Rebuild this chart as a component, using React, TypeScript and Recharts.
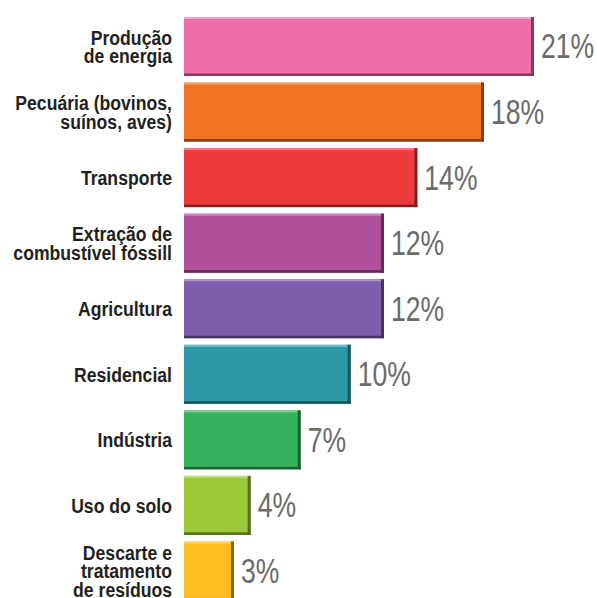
import React from "react";
import { BarChart, Bar, XAxis, YAxis, Cell, LabelList } from "recharts";

const sectors = [
  "Produção\nde energia",
  "Pecuária (bovinos,\nsuínos, aves)",
  "Transporte",
  "Extração de\ncombustível fóssill",
  "Agricultura",
  "Residencial",
  "Indústria",
  "Uso do solo",
  "Descarte e\ntratamento\nde resíduos",
];
const shares = [21, 18, 14, 12, 12, 10, 7, 4, 3];

const palette = [
  "#ef6eaa",
  "#f07223",
  "#ee3c3c",
  "#b0509c",
  "#7e5fad",
  "#2f98a6",
  "#36b25d",
  "#9dc83a",
  "#fdbd20",
];

const data = sectors.map((name, i) => ({ name, share: shares[i] }));

const FONT = "'Liberation Sans', Arial, sans-serif";

function shade(hex: string, amt: number) {
  const n = parseInt(hex.slice(1), 16);
  const mix = (c: number) =>
    Math.round(amt < 0 ? c * (1 + amt) : c + (255 - c) * amt);
  const r = mix((n >> 16) & 255);
  const g = mix((n >> 8) & 255);
  const b = mix(n & 255);
  return `rgb(${r},${g},${b})`;
}

function SectorBar(props: any) {
  const { x, y, width, height, fill } = props;
  if (!width || width <= 0) return null;
  const dark = shade(fill, -0.45);
  return (
    <g>
      <rect x={x} y={y} width={width} height={height} fill={fill} />
      <rect x={x} y={y} width={width} height={2} fill={shade(fill, 0.35)} />
      <rect x={x + width - 3} y={y} width={3} height={height} fill={dark} />
      <rect x={x} y={y + height - 2.5} width={width} height={2.5} fill={dark} />
    </g>
  );
}

// condensed look: squeeze the glyphs horizontally around the anchor
function SectorTick(props: any) {
  const { x, y, payload } = props;
  const lines = String(payload.value).split("\n");
  const lh = 18.5;
  return (
    <text
      transform={`translate(${x} 0) scale(0.84 1)`}
      textAnchor="end"
      fill="#231f20"
      fontFamily={FONT}
      fontWeight={700}
      fontSize={21}
    >
      {lines.map((ln, i) => (
        <tspan key={i} x={0} y={y + (i - (lines.length - 1) / 2) * lh + 7}>
          {ln}
        </tspan>
      ))}
    </text>
  );
}

function ShareLabel(props: any) {
  const { x, y, width, height, value } = props;
  const tx = x + width + 7;
  return (
    <text
      transform={`translate(${tx} 0) scale(0.76 1)`}
      x={0}
      y={y + height / 2 + 12}
      fill="#6b6b6b"
      fontFamily={FONT}
      fontSize={35}
    >
      {`${value}%`}
    </text>
  );
}

export default function App() {
  return (
    <div
      style={{
        position: "fixed",
        left: 0,
        top: 0,
        width: 597,
        height: 598,
        overflow: "hidden",
        background: "#ffffff",
      }}
    >
      <BarChart
        width={597}
        height={604}
        data={data}
        layout="vertical"
        margin={{ top: 14, right: 63, left: 0, bottom: 0 }}
        barCategoryGap={6}
      >
        <XAxis type="number" domain={[0, 21]} hide />
        <YAxis
          type="category"
          dataKey="name"
          width={184}
          tickLine={false}
          axisLine={false}
          tickMargin={6}
          interval={0}
          tick={<SectorTick />}
        />
        <Bar
          dataKey="share"
          barSize={59}
          shape={<SectorBar />}
          isAnimationActive={false}
        >
          {data.map((d, i) => (
            <Cell key={d.name} fill={palette[i]} />
          ))}
          <LabelList dataKey="share" content={<ShareLabel />} />
        </Bar>
      </BarChart>
    </div>
  );
}
